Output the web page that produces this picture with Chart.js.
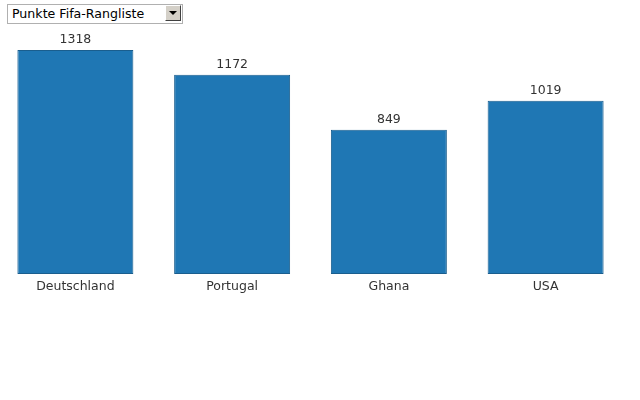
<!DOCTYPE html>
<html>
<head>
<meta charset="utf-8">
<script src="https://cdn.jsdelivr.net/npm/chart.js@4"></script>
<style>
  body { margin: 0; background: #fff; font-family: "DejaVu Sans", sans-serif; }
  #wrap { position: relative; width: 640px; height: 400px; }
  #pick { position: absolute; left: 7px; top: 3px; width: 176px; height: 20px; }
  #pick select {
    -webkit-appearance: none; appearance: none;
    width: 176px; height: 20px; margin: 0; padding: 0 0 0 4px;
    border: 1px solid #b0b0b0; background: #fff;
    font: 12.6px "DejaVu Sans", sans-serif; color: #000;
  }
  #pick .btn {
    position: absolute; right: 2px; top: 2px; width: 14px; height: 14px;
    background: #d4d0c8;
    border-top: 1px solid #fff; border-left: 1px solid #fff;
    border-right: 1px solid #404040; border-bottom: 1px solid #404040;
    pointer-events: none;
  }
  #pick .btn:after {
    content: ""; position: absolute; left: 3px; top: 5px;
    border-left: 4px solid transparent; border-right: 4px solid transparent;
    border-top: 4px solid #000;
  }
  #box { position: absolute; left: -3px; top: 0; width: 627px; height: 300px; }
</style>
</head>
<body>
<div id="wrap">
  <div id="pick">
    <select><option>Punkte Fifa-Rangliste</option></select>
    <div class="btn"></div>
  </div>
  <div id="box"><canvas id="myChart"></canvas></div>
</div>
<script>
const teams = ['Deutschland', 'Portugal', 'Ghana', 'USA'];
const fifaPoints = [1318, 1172, 849, 1019];

// Zahlen über den Balken
const valueLabels = {
    id: 'valueLabels',
    afterDatasetsDraw(chart) {
        const c = chart.ctx;
        const meta = chart.getDatasetMeta(0);
        c.save();
        c.font = '12.5px "DejaVu Sans"';
        c.fillStyle = '#333';
        c.textAlign = 'center';
        c.textBaseline = 'bottom';
        meta.data.forEach((bar, i) => {
            c.fillText(fifaPoints[i], bar.x, bar.y - 4);
        });
        c.restore();
    }
};

const ctx = document.getElementById('myChart').getContext('2d');
const myChart = new Chart(ctx, {
    type: 'bar',
    data: {
        labels: teams,
        datasets: [{
            label: 'Punkte Fifa-Rangliste',
            data: fifaPoints,
            backgroundColor: '#1f77b4',
            borderColor: '#1a5e8e',
            borderWidth: 1,
            borderSkipped: false,
            categoryPercentage: 1,
            barPercentage: 0.74
        }]
    },
    options: {
        responsive: true,
        maintainAspectRatio: false,
        animation: false,
        layout: { padding: { top: 50, left: 0, right: 0, bottom: 1 } },
        plugins: { legend: { display: false }, tooltip: { enabled: false } },
        scales: {
            x: {
                grid: { display: false, drawTicks: false },
                border: { display: false },
                ticks: { color: '#333', font: { family: 'DejaVu Sans', size: 12.5 }, padding: 5 }
            },
            y: {
                display: false,
                min: 0,
                max: Math.max(...fifaPoints)
            }
        }
    },
    plugins: [valueLabels]
});
</script>
</body>
</html>
